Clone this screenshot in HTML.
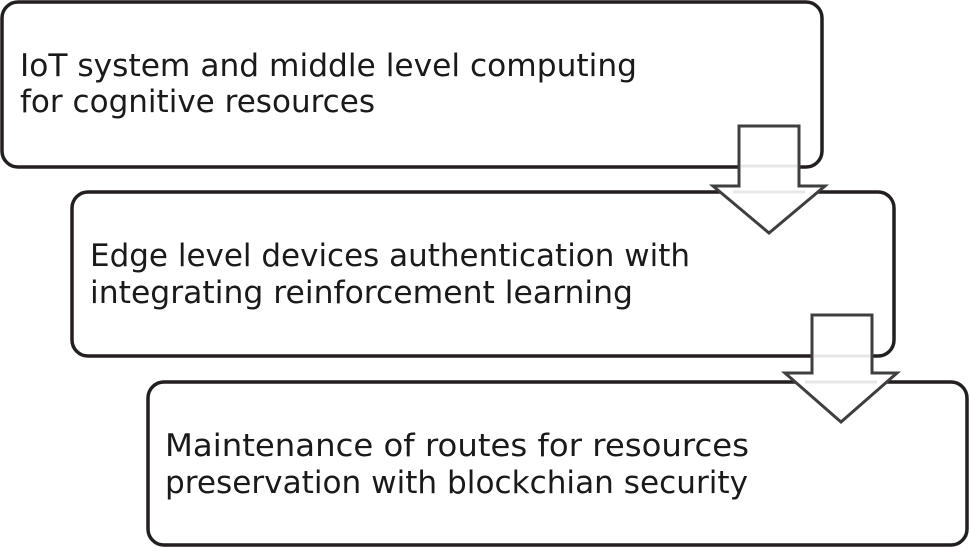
<!DOCTYPE html>
<html><head><meta charset="utf-8"><style>
html,body{margin:0;padding:0;background:#fff;}
svg{display:block;}
text{font-family:"DejaVu Sans","Liberation Sans",sans-serif;font-size:31px;fill:#1a1a1a;}
</style></head><body>
<svg width="969" height="548" viewBox="0 0 969 548" xmlns="http://www.w3.org/2000/svg">
<g fill="#fff" stroke="#231f20" stroke-width="3.5">
<rect x="2" y="2" width="820" height="165" rx="16"/>
<rect x="72" y="192" width="822" height="164" rx="16"/>
<rect x="148" y="382" width="819" height="163" rx="16"/>
</g>
<g fill="#fff" stroke="#3f3f3f" stroke-width="3">
<polygon points="739,126 799,126 799,186 825,186 769,233 713,186 739,186"/>
<polygon points="812,315 872,315 872,373 897,373 841,422 785,373 812,373"/>
</g>
<g stroke="#e6e7e8" stroke-width="3">
<line x1="741" y1="166" x2="797" y2="166"/>
<line x1="733" y1="192" x2="805" y2="192"/>
<line x1="814" y1="356" x2="870" y2="356"/>
<line x1="805" y1="382" x2="877" y2="382"/>
</g>
<text x="20" y="76" textLength="617" lengthAdjust="spacingAndGlyphs">IoT system  and middle level computing</text>
<text x="20" y="112" textLength="355" lengthAdjust="spacingAndGlyphs">for cognitive resources</text>
<text x="90" y="266" textLength="600" lengthAdjust="spacingAndGlyphs">Edge level devices authentication with</text>
<text x="90" y="303" textLength="543" lengthAdjust="spacingAndGlyphs">integrating reinforcement learning</text>
<text x="165" y="456" textLength="584" lengthAdjust="spacingAndGlyphs">Maintenance of routes for resources</text>
<text x="165" y="493" textLength="583" lengthAdjust="spacingAndGlyphs">preservation with blockchian security</text>
</svg>
</body></html>
